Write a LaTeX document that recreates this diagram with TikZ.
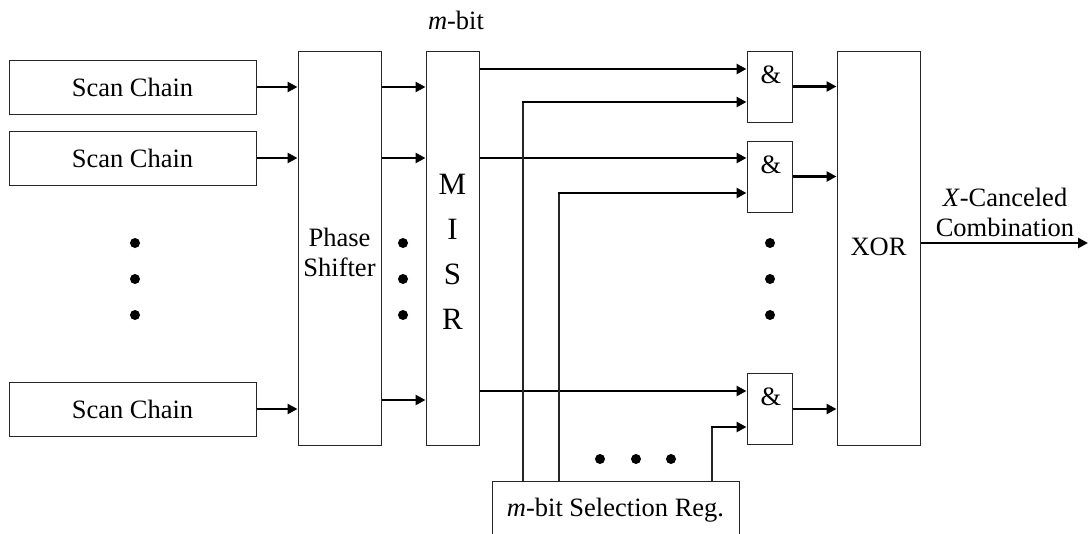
\documentclass[tikz,border=0pt]{standalone}
\usepackage{fontspec}
\setmainfont{Liberation Serif}
\usetikzlibrary{arrows.meta}
\begin{document}
\begin{tikzpicture}[x=1pt,y=-1pt,
  every node/.style={font=\fontsize{26.5}{30}\selectfont},
  box/.style={draw=black!85,line width=1pt,inner sep=0pt,rectangle},
  arr/.style={line width=2.7pt,-{Triangle[length=10pt,width=10pt]}},
  thinline/.style={line width=1.3pt,draw=black!85},
  dot/.style={fill=black}]
\clip (0,0) rectangle (1089,533);
\useasboundingbox (0,0) rectangle (1089,533);
% scan chains
\node[box,minimum width=247pt,minimum height=54pt] (sc1) at (132.5,87) {Scan Chain};
\node[box,minimum width=247pt,minimum height=54pt] (sc2) at (132.5,158) {Scan Chain};
\node[box,minimum width=247pt,minimum height=54pt] (sc3) at (132.5,409) {Scan Chain};
% phase shifter
\node[box,minimum width=83pt,minimum height=394pt] (ps) at (339.5,248) {};
\node[align=center] (pstext) at (339.5,252) {Phase\\Shifter};
% MISR
\node[box,minimum width=53pt,minimum height=394pt] (misr) at (452.5,248) {};
\node[align=center,font=\fontsize{31}{45}\selectfont] (misrtext) at (452.5,252) {M\\I\\S\\R};
\node (mbit) at (456,20) {\textit{m}-bit};
% gates
\node[box,minimum width=45pt,minimum height=71pt] (g1) at (769.5,86.5) {};
\node[box,minimum width=45pt,minimum height=71pt] (g2) at (769.5,176.5) {};
\node[box,minimum width=45pt,minimum height=71pt] (g3) at (769.5,409) {};
\node (a1) at (771,75) {\&};
\node (a2) at (771,165) {\&};
\node (a3) at (771,397) {\&};
% XOR
\node[box,minimum width=83pt,minimum height=394pt] (xor) at (878.5,248) {};
\node (xortext) at (878.5,247) {XOR};
\node[align=center] (outlabel) at (1005,212) {\textit{X}-Canceled\\Combination};
\coordinate (out) at (1088,243);
% selection register
\node[box,minimum width=247pt,minimum height=58pt] (sel) at (615.5,510) {\textit{m}-bit Selection Reg.};
% scan chain -> phase shifter
\draw[arr] (sc1.east) -- (sc1.east -| ps.west);
\draw[arr] (sc2.east) -- (sc2.east -| ps.west);
\draw[arr] (sc3.east) -- (sc3.east -| ps.west);
% phase shifter -> MISR
\coordinate (p1) at (0,87);
\coordinate (p2) at (0,158);
\coordinate (p3) at (0,400);
\draw[arr] (p1 -| ps.east) -- (p1 -| misr.west);
\draw[arr] (p2 -| ps.east) -- (p2 -| misr.west);
\draw[arr] (p3 -| ps.east) -- (p3 -| misr.west);
% MISR -> gates
\coordinate (m1) at (0,69);
\coordinate (m2) at (0,158);
\coordinate (m3) at (0,391);
\draw[arr] (m1 -| misr.east) -- (m1 -| g1.west);
\draw[arr] (m2 -| misr.east) -- (m2 -| g2.west);
\draw[arr] (m3 -| misr.east) -- (m3 -| g3.west);
% selection register -> gates
\coordinate (s1) at (523,102);
\coordinate (s2) at (559,193);
\coordinate (s3) at (712,427);
\draw[thinline] (s1 |- sel.north) -- (s1);
\draw[thinline] (s2 |- sel.north) -- (s2);
\draw[thinline] (s3 |- sel.north) -- (s3);
\draw[arr] ([xshift=-0.65pt]s1) -- (s1 -| g1.west);
\draw[arr] ([xshift=-0.65pt]s2) -- (s2 -| g2.west);
\draw[arr] ([xshift=-0.65pt]s3) -- (s3 -| g3.west);
% gates -> XOR
\draw[arr] (g1.east) -- (g1.east -| xor.west);
\draw[arr] (g2.east) -- (g2.east -| xor.west);
\draw[arr] (g3.east) -- (g3.east -| xor.west);
% XOR -> output
\draw[arr] (out -| xor.east) -- (out);
% dots
\foreach \y in {243,279,315} {
  \fill[dot] (135,\y) circle[radius=5pt];
  \fill[dot] (403,\y) circle[radius=5pt];
  \fill[dot] (770,\y) circle[radius=5pt];
}
\foreach \x in {600,636,671} {
  \fill[dot] (\x,459) circle[radius=5pt];
}
\end{tikzpicture}
\end{document}
